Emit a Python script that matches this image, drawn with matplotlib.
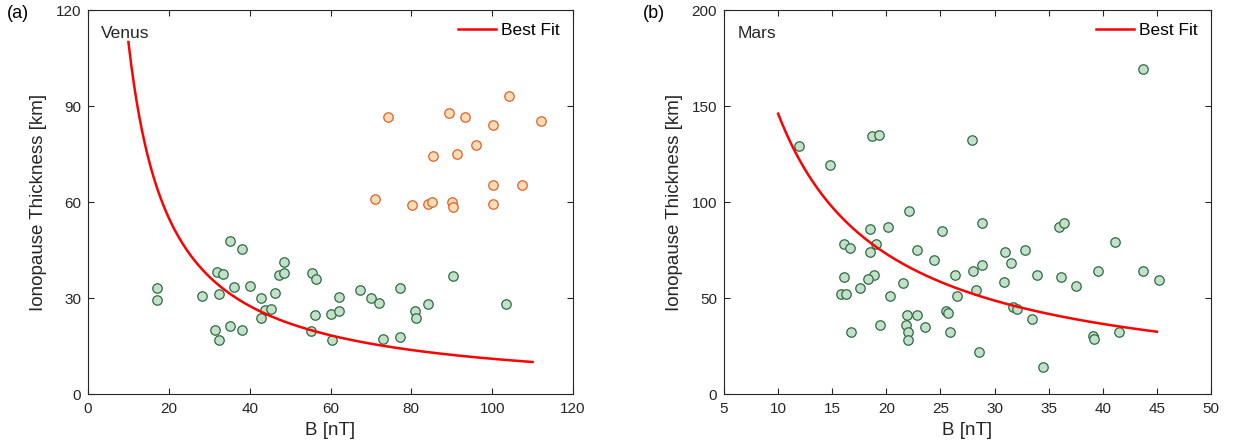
import numpy as np
import matplotlib
matplotlib.use("Agg")
import matplotlib.pyplot as plt

# Venus: ionopause thickness vs B, two populations
venus_green_b = [17.0, 17.0, 28.1, 32.0, 33.3, 32.3, 35.2, 38.1, 36.0, 31.3,
                 32.3, 35.2, 38.1, 40.2, 42.9, 43.8, 45.2, 42.9, 46.3, 47.2,
                 48.4, 48.4, 55.3, 56.3, 56.1, 55.2, 60.1, 60.3, 62.1, 62.1,
                 67.2, 70.1, 72.0, 72.9, 77.2, 77.2, 81.0, 81.2, 84.1, 90.4,
                 103.3]
venus_green_h = [33.2, 29.3, 30.7, 38.1, 37.5, 31.3, 47.8, 45.4, 33.4, 20.1,
                 16.8, 21.3, 19.9, 33.6, 29.9, 26.1, 26.5, 23.9, 31.7, 37.1,
                 37.7, 41.4, 37.7, 35.8, 24.8, 19.6, 25.0, 16.9, 30.3, 26.0,
                 32.6, 30.1, 28.5, 17.3, 33.2, 17.8, 26.0, 23.6, 28.1, 36.8,
                 28.1]
venus_orange_b = [74.3, 89.2, 93.3, 104.1, 100.2, 112.2, 96.1, 91.4, 85.4, 70.9,
                  80.2, 84.0, 85.2, 90.1, 90.4, 100.3, 100.3, 107.4]
venus_orange_h = [86.7, 87.7, 86.7, 93.0, 84.2, 85.2, 77.8, 75.1, 74.4, 60.9,
                  59.0, 59.4, 60.0, 60.0, 58.3, 59.5, 65.2, 65.2]

# Mars
mars_b = [11.9, 14.8, 18.7, 19.3, 27.9, 22.1, 18.5, 20.2, 25.1, 16.1,
          16.6, 19.0, 18.5, 22.8, 24.4, 16.1, 18.9, 18.3, 17.6, 15.8,
          16.3, 20.3, 21.5, 26.3, 26.5, 28.0, 28.3, 21.9, 22.8, 25.5,
          25.7, 21.8, 22.0, 22.0, 23.6, 19.4, 16.7, 25.9, 28.6, 28.8,
          28.8, 43.7, 36.0, 36.4, 41.1, 31.0, 32.8, 31.5, 30.9, 33.9,
          36.1, 37.5, 39.6, 43.7, 45.2, 31.7, 32.1, 33.5, 39.1, 39.2,
          41.5, 34.5]
mars_h = [129.2, 119.1, 134.2, 135.1, 132.1, 95.1, 86.1, 87.0, 85.1, 78.1,
          76.0, 78.1, 74.0, 75.0, 70.0, 61.1, 62.0, 59.9, 55.0, 52.1,
          52.1, 51.0, 58.0, 62.0, 51.0, 64.1, 54.0, 41.0, 41.0, 43.1,
          42.0, 35.9, 32.1, 28.1, 35.1, 35.9, 32.1, 32.1, 22.0, 89.2,
          67.0, 169.3, 87.2, 89.2, 79.2, 74.1, 75.2, 68.2, 58.1, 62.0,
          61.1, 56.1, 64.1, 64.1, 59.2, 45.2, 44.1, 39.1, 30.0, 28.8,
          32.1, 14.1]

# best-fit power laws h = a * B**p
venus_fit = (1100.0, -1.0, 10, 110)
mars_fit = (1460.0, -1.0, 10, 45)

AX_COLOR = "#262626"
GREEN_FACE, GREEN_EDGE = "#c3e0c8", "#2f6b45"
ORANGE_FACE, ORANGE_EDGE = "#f7dcb5", "#e0622a"

plt.rcParams["font.family"] = ["Liberation Sans", "DejaVu Sans"]

fig = plt.figure(figsize=(12.37, 4.46), dpi=100)
ax1 = fig.add_axes([88 / 1237, 1 - 394 / 446, 485 / 1237, 384 / 446])
ax2 = fig.add_axes([724 / 1237, 1 - 394 / 446, 487 / 1237, 384 / 446])


def style(ax, xlim, ylim, xticks, yticks, name):
    ax.set_xlim(*xlim)
    ax.set_ylim(*ylim)
    ax.set_xticks(xticks)
    ax.set_yticks(yticks)
    ax.tick_params(direction="in", top=True, right=True, length=4,
                   width=0.8, color=AX_COLOR, labelcolor=AX_COLOR,
                   labelsize=11)
    ax.tick_params(axis="x", pad=6)
    ax.tick_params(axis="y", pad=5)
    for s in ax.spines.values():
        s.set_color(AX_COLOR)
        s.set_linewidth(0.8)
    ax.set_xlabel("B [nT]", fontsize=13.5, color=AX_COLOR, labelpad=4)
    ax.set_ylabel("Ionopause Thickness [km]", fontsize=13.5, color=AX_COLOR,
                  labelpad=6)
    ax.text(0.027, 0.94, name, transform=ax.transAxes, fontsize=12.5,
            color=AX_COLOR, va="center", ha="left")


def fit_line(ax, fit):
    a, p, b0, b1 = fit
    b = np.linspace(b0, b1, 300)
    ax.plot(b, a * b ** p, color="red", lw=1.8, label="Best Fit", zorder=3)


fit_line(ax1, venus_fit)
ax1.plot(venus_green_b, venus_green_h, "o", ms=6.8, mfc=GREEN_FACE,
         mec=GREEN_EDGE, mew=0.9, zorder=2)
ax1.plot(venus_orange_b, venus_orange_h, "o", ms=6.8, mfc=ORANGE_FACE,
         mec=ORANGE_EDGE, mew=0.9, zorder=2)
style(ax1, (0, 120), (0, 120), range(0, 121, 20), range(0, 121, 30), "Venus")

fit_line(ax2, mars_fit)
ax2.plot(mars_b, mars_h, "o", ms=6.8, mfc=GREEN_FACE, mec=GREEN_EDGE,
         mew=0.9, zorder=2)
style(ax2, (5, 50), (0, 200), range(5, 51, 5), range(0, 201, 50), "Mars")

for ax in (ax1, ax2):
    ax.legend(loc="upper right", frameon=False, fontsize=12.5,
              handlelength=2.2, handletextpad=0.3, borderaxespad=0.35)

fig.text(7 / 1237, 1 - 14 / 446, "(a)", fontsize=13, va="center", ha="left")
fig.text(643 / 1237, 1 - 14 / 446, "(b)", fontsize=13, va="center", ha="left")

fig.savefig("out.png", dpi=100)
